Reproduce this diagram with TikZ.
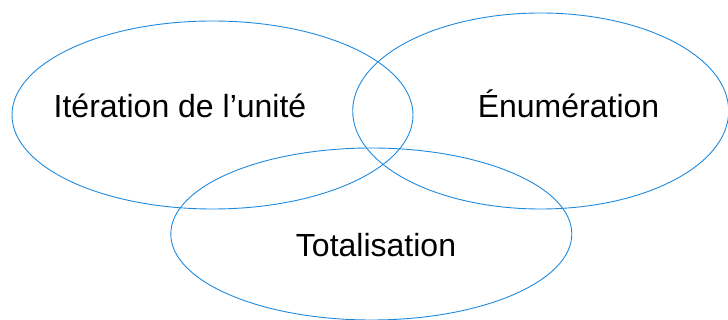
\documentclass[tikz,border=0pt]{standalone}
\usepackage{fontspec}
\setmainfont{Liberation Sans}
\usetikzlibrary{shapes.geometric}
\definecolor{vennblue}{RGB}{30,138,222}
\tikzset{
  venn/.style={draw=vennblue, line width=0.9pt, ellipse, inner sep=0pt, outer sep=0pt},
  lbl/.style={anchor=base, inner sep=0pt, font=\fontsize{32}{38}\selectfont}
}
\begin{document}
\begin{tikzpicture}[x=1pt,y=-1pt]
\useasboundingbox (0,0) rectangle (728,320);
\node[venn, minimum width=401pt, minimum height=188pt] (e1) at (212.5,115) {};
\node[venn, minimum width=376pt, minimum height=196pt] (e2) at (540.7,111) {};
\node[venn, minimum width=401pt, minimum height=172pt] (e3) at (371.3,234) {};
\node[lbl] (t1) at (180,118) {Itération de l’unité};
\node[lbl] (t2) at (568.5,118) {Énumération};
\node[lbl] (t3) at (376,257) {Totalisation};
\end{tikzpicture}
\end{document}
